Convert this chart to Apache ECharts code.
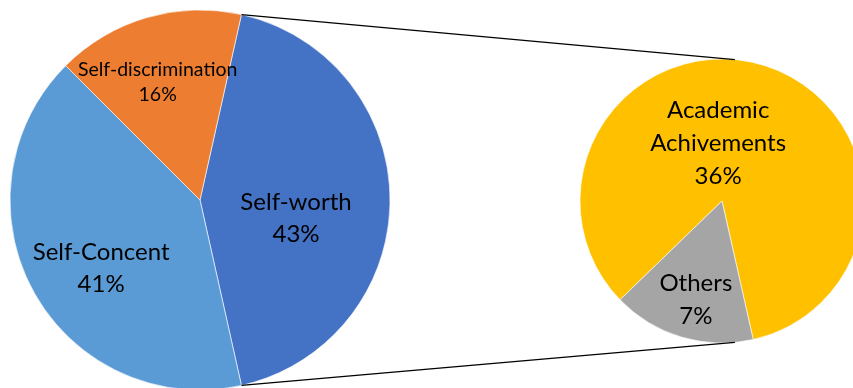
<!DOCTYPE html>
<html>
<head>
<meta charset="utf-8">
<script src="https://cdn.jsdelivr.net/npm/echarts@6/dist/echarts.min.js"></script>
<style>html,body{margin:0;padding:0;background:#fff;}#c{width:853px;height:388px;}</style>
</head>
<body>
<div id="c"></div>
<script>
// ---- data ----
var mainNames = ['Self-worth', 'Self-Concent', 'Self-discrimination'];
var mainValues = [43, 41, 16];
var subNames = ['Academic Achivements', 'Others'];
var subValues = [36, 7];

// ---- styles / layout ----
var mainColors = ['#4472C4', '#5B9BD5', '#ED7D31'];
var subColors = ['#FFC000', '#A5A5A5'];
var mainLabelShift = [[-2, 18], [-13, 21], [-15, -24]];
var subLabelShift = [[-25, 13], [-5, 28]];
var mainFont = [24, 24, 19.5];
var mainLH = [32, 32, 25];
var mainCenter = [200, 200], mainRadius = 190;
var subCenter = [722, 201], subRadius = 142;

var chart = echarts.init(document.getElementById('c'), null, {renderer: 'canvas'});

function total(a){return a.reduce(function(s,v){return s+v;},0);}
var mainTotal = total(mainValues);
var splitDeg = mainValues[0] / mainTotal * 360;
var mainStart = splitDeg / 2;                          // split slice centred on the right

var subTotal = total(subValues);
var academicDeg = subValues[0] / subTotal * 360;
var subStart = 282.7 + academicDeg - 360;             // 'Others' placed lower-left

function fmt(p){ return p.name.replace(' ', '\n') + '\n' + p.value + '%'; }
function pt(c, r, deg){ var a = deg * Math.PI / 180; return [c[0] + r * Math.cos(a), c[1] - r * Math.sin(a)]; }

// connector lines: split slice edges -> near top / bottom of secondary pie
var p1 = pt(mainCenter, mainRadius, mainStart), p2 = pt(mainCenter, mainRadius, mainStart - splitDeg);
var q1 = pt(subCenter, subRadius, 84.8), q2 = pt(subCenter, subRadius, -84.8);

chart.setOption({
  animation: false,
  graphic: [
    {type: 'line', silent: true, z: 10, shape: {x1: p1[0], y1: p1[1], x2: q1[0], y2: q1[1]}, style: {stroke: '#000', lineWidth: 1.4}},
    {type: 'line', silent: true, z: 10, shape: {x1: p2[0], y1: p2[1], x2: q2[0], y2: q2[1]}, style: {stroke: '#000', lineWidth: 1.4}}
  ],
  series: [
    {
      type: 'pie',
      center: mainCenter,
      radius: mainRadius,
      startAngle: mainStart,
      clockwise: true,
      avoidLabelOverlap: false,
      silent: true,
      itemStyle: {borderColor: '#fff', borderWidth: 0.6},
      label: {
        position: 'inside',
        formatter: fmt,
        color: '#000',
        fontFamily: 'Lato',
        fontSize: 24,
        lineHeight: 32
      },
      labelLine: {show: false},
      labelLayout: function(p){ var s = mainLabelShift[p.dataIndex]; return {dx: s[0], dy: s[1]}; },
      data: mainNames.map(function(n, i){
        return {name: n, value: mainValues[i], itemStyle: {color: mainColors[i]},
                label: {fontSize: mainFont[i], lineHeight: mainLH[i]}};
      })
    },
    {
      type: 'pie',
      center: subCenter,
      radius: subRadius,
      startAngle: subStart,
      clockwise: true,
      avoidLabelOverlap: false,
      silent: true,
      itemStyle: {borderColor: '#fff', borderWidth: 0.6},
      label: {
        position: 'inside',
        formatter: fmt,
        color: '#000',
        fontFamily: 'Lato',
        fontSize: 24,
        lineHeight: 33
      },
      labelLine: {show: false},
      labelLayout: function(p){ var s = subLabelShift[p.dataIndex]; return {dx: s[0], dy: s[1]}; },
      data: subNames.map(function(n, i){
        return {name: n, value: subValues[i], itemStyle: {color: subColors[i]}};
      })
    }
  ]
});
</script>
</body>
</html>
